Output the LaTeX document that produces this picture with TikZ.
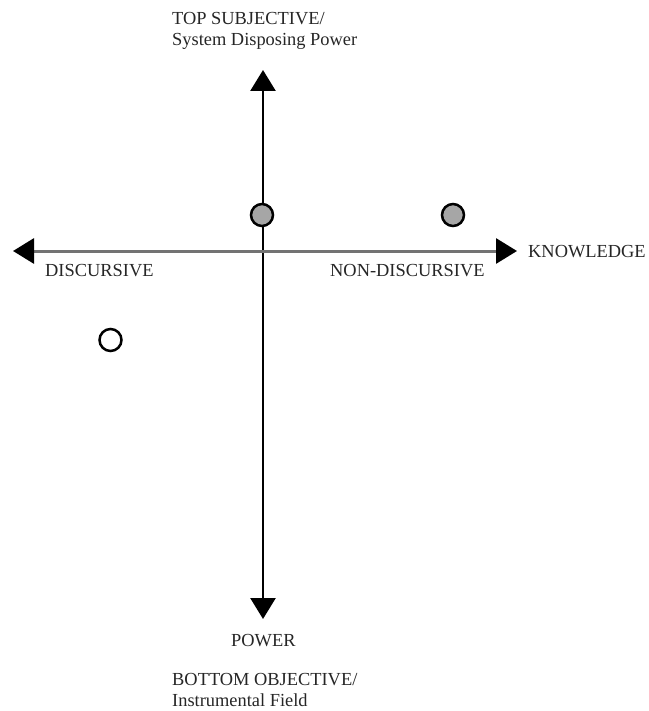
\documentclass[tikz,border=0pt]{standalone}
\usepackage{fontspec}
\setmainfont{Liberation Serif}
\usetikzlibrary{arrows.meta}
\begin{document}
\begin{tikzpicture}[x=1pt,y=-1pt,
  lbl/.style={anchor=base west,inner sep=0pt,font=\fontsize{18.4}{20}\selectfont,text=black!85},
  tipstyle/.style={-{Triangle[width=25pt,length=21pt,color=black]}},
  dot/.style={circle,draw=black,line width=2.5pt,minimum size=22pt,inner sep=0pt}]
\useasboundingbox (0,0) rectangle (648,711);
\coordinate (vc) at (263,251);
\coordinate (top) at (263,70);
\coordinate (bot) at (263,619);
\coordinate (lft) at (13,251);
\coordinate (rgt) at (517,251);
\draw[tipstyle,line width=2.6pt,black] (vc) -- (top);
\draw[tipstyle,line width=2.6pt,black] (vc) -- (bot);
\draw[tipstyle,line width=3pt,black!55] (vc) -- (lft);
\draw[tipstyle,line width=3pt,black!55] (vc) -- (rgt);
\node[dot,fill=black!35] (d1) at (262,215) {};
\node[dot,fill=black!35] (d2) at (453,215) {};
\node[dot,fill=white] (d3) at (110.5,340) {};
\node[lbl] (t1) at (172,25) {TOP SUBJECTIVE/};
\node[lbl] (t2) at (172,46) {System Disposing Power};
\node[lbl] (kn) at (528,257) {KNOWLEDGE};
\node[lbl] (ds) at (45,276) {DISCURSIVE};
\node[lbl] (nd) at (330,276) {NON-DISCURSIVE};
\node[lbl] (pw) at (231,646) {POWER};
\node[lbl] (b1) at (172,685) {BOTTOM OBJECTIVE/};
\node[lbl] (b2) at (172,706) {Instrumental Field};
\end{tikzpicture}
\end{document}
